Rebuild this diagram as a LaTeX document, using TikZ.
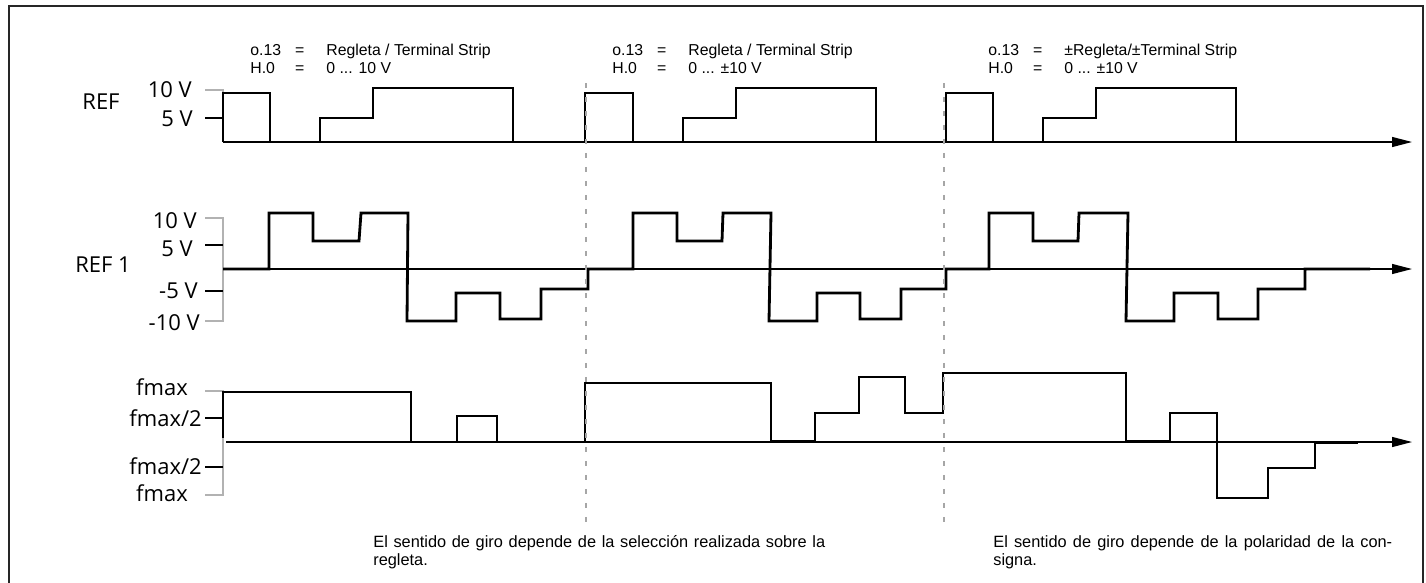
\documentclass[tikz,border=0pt]{standalone}
\usepackage{fontspec}
\setmainfont{Liberation Sans}
\newfontfamily\axisfont{Open Sans}
\usetikzlibrary{arrows.meta}

\begin{document}
\begin{tikzpicture}[x=0.02cm, y=-0.02cm,
  sig/.style={line width=1.6pt, line join=miter},
  zeroline/.style={line width=0.7pt, -{Triangle[length=0.4cm, width=0.2cm]}},
  graytick/.style={draw=gray!60, line width=0.6pt},
  blacktick/.style={draw=black, line width=0.6pt},
  divider/.style={draw=gray!70, line width=0.6pt, dash pattern=on 0.1cm off 0.18cm},
  vlbl/.style={font=\axisfont\fontsize{12.5}{14}\selectfont, inner sep=0pt, anchor=east},
  namelbl/.style={font=\axisfont\fontsize{12.5}{14}\selectfont, inner sep=0pt},
  hdr/.style={font=\fontsize{9}{10.8}\selectfont, inner sep=0pt, anchor=base west},
  note/.style={font=\fontsize{9.3}{11}\selectfont, inner sep=0pt, anchor=base west},
  ]
  \useasboundingbox (0,0) rectangle (1426,582);
  \draw[draw=gray!30!black, line width=1.1pt] (9,590) -- (9,6) -- (1423,6) -- (1423,590);

  % headers
  \node[hdr] (hdr1) at (250,55) {\begin{tabular}[t]{@{}l@{\hspace{0.28cm}}l@{\hspace{0.44cm}}l@{}}o.13 & = & Regleta / Terminal Strip\\ H.0 & = & 0 ... 10 V\end{tabular}};
  \node[hdr] (hdr2) at (612,55) {\begin{tabular}[t]{@{}l@{\hspace{0.28cm}}l@{\hspace{0.44cm}}l@{}}o.13 & = & Regleta / Terminal Strip\\ H.0 & = & 0 ... ±10 V\end{tabular}};
  \node[hdr] (hdr3) at (988,55) {\begin{tabular}[t]{@{}l@{\hspace{0.28cm}}l@{\hspace{0.44cm}}l@{}}o.13 & = & ±Regleta/±Terminal Strip\\ H.0 & = & 0 ... ±10 V\end{tabular}};

  % REF
  \node[namelbl] (ref) at (101,102) {REF};
  \node[vlbl] (ref_10) at (192,90) {10 V};
  \node[vlbl] (ref_5) at (193,119) {5 V};
  \draw[graytick] (205,90) -- (223,90) -- (223,142);
  \draw[blacktick] (205,118) -- (223,118);
  \coordinate (o1) at (223,142);
  \coordinate (e1) at (1412,142);
  \draw[zeroline] (o1) -- (e1);
  \draw[sig] (223,142) -- (223,93) -- (270,93) -- (270,142) -- (320,142) -- (320,118) -- (373,118) -- (373,88) -- (513,88) -- (513,142)
    -- (585,142) -- (585,93) -- (633,93) -- (633,142) -- (683,142) -- (683,118) -- (736,118) -- (736,88) -- (876,88) -- (876,142)
    -- (946,142) -- (946,93) -- (993,93) -- (993,142) -- (1043,142) -- (1043,118) -- (1096,118) -- (1096,88) -- (1236,88) -- (1236,142) -- (1367,142);

  % REF 1
  \node[namelbl] (ref1) at (103,265) {REF 1};
  \node[vlbl] (ref1_p10) at (197,221) {10 V};
  \node[vlbl] (ref1_p5) at (193,249) {5 V};
  \node[vlbl] (ref1_m5) at (198,291) {-5 V};
  \node[vlbl] (ref1_m10) at (200,323) {-10 V};
  \draw[graytick] (205,218) -- (223,218) -- (223,321) -- (205,321);
  \draw[blacktick] (205,245) -- (223,245);
  \draw[blacktick] (205,291) -- (223,291);
  \coordinate (o2) at (223,269);
  \coordinate (e2) at (1412,269);
  \draw[zeroline] (o2) -- (e2);
  \draw[sig] (223,269) -- (269,269) -- (269,213) -- (313,213) -- (313,241) -- (359,241) -- (361,213) -- (408,213) -- (407,321) -- (456,321)
    -- (456,293) -- (500,293) -- (500,319) -- (541,319) -- (541,289) -- (588,289) -- (588,269) -- (633,269) -- (633,213) -- (677,213)
    -- (677,241) -- (722,241) -- (723,213) -- (771,213) -- (769,321) -- (817,321) -- (817,293) -- (860,293) -- (860,319) -- (901,319)
    -- (901,289) -- (946,289) -- (946,269) -- (989,269) -- (989,213) -- (1033,213) -- (1033,241) -- (1078,241) -- (1079,213) -- (1128,213)
    -- (1126,321) -- (1174,321) -- (1174,293) -- (1218,293) -- (1218,319) -- (1258,319) -- (1258,289) -- (1305,289) -- (1305,269) -- (1370,269);

  % frequency
  \node[namelbl] (fmax_p) at (162,387) {fmax};
  \node[vlbl] (fhalf_p) at (202,418) {fmax/2};
  \node[vlbl] (fhalf_m) at (202,466) {fmax/2};
  \node[namelbl] (fmax_m) at (162,493) {fmax};
  \draw[graytick] (205,391) -- (223,391) -- (223,495) -- (205,495);
  \draw[blacktick] (205,418) -- (223,418);
  \draw[blacktick] (205,467) -- (223,467);
  \coordinate (o3) at (226,442);
  \coordinate (e3) at (1412,442);
  \draw[zeroline] (o3) -- (e3);
  \draw[sig] (223,438) -- (223,392) -- (411,392) -- (411,442) -- (457,442) -- (457,416) -- (497,416) -- (497,442) -- (585,442) -- (585,383)
    -- (771,383) -- (771,441) -- (815,441) -- (815,413) -- (859,413) -- (859,377) -- (905,377) -- (905,413) -- (943,413) -- (943,373)
    -- (1126,373) -- (1126,441) -- (1170,441) -- (1170,413) -- (1217,413) -- (1217,498) -- (1268,498) -- (1268,468) -- (1315,468)
    -- (1315,443) -- (1358,443);

  % dividers
  \coordinate (d1t) at (586,83);
  \coordinate (d1b) at (586,523);
  \coordinate (d2t) at (944,83);
  \coordinate (d2b) at (944,523);
  \draw[divider] (d1t) -- (d1b);
  \draw[divider] (d2t) -- (d2b);

  % notes
  \node[note] (note1a) at (373,547) {\makebox[9.04cm][s]{El sentido de giro depende de la selección realizada sobre la}};
  \node[note] (note1b) at (373,565) {regleta.};
  \node[note] (note2a) at (993,547) {\makebox[7.98cm][s]{El sentido de giro depende de la polaridad de la con-}};
  \node[note] (note2b) at (993,565) {signa.};
\end{tikzpicture}
\end{document}
